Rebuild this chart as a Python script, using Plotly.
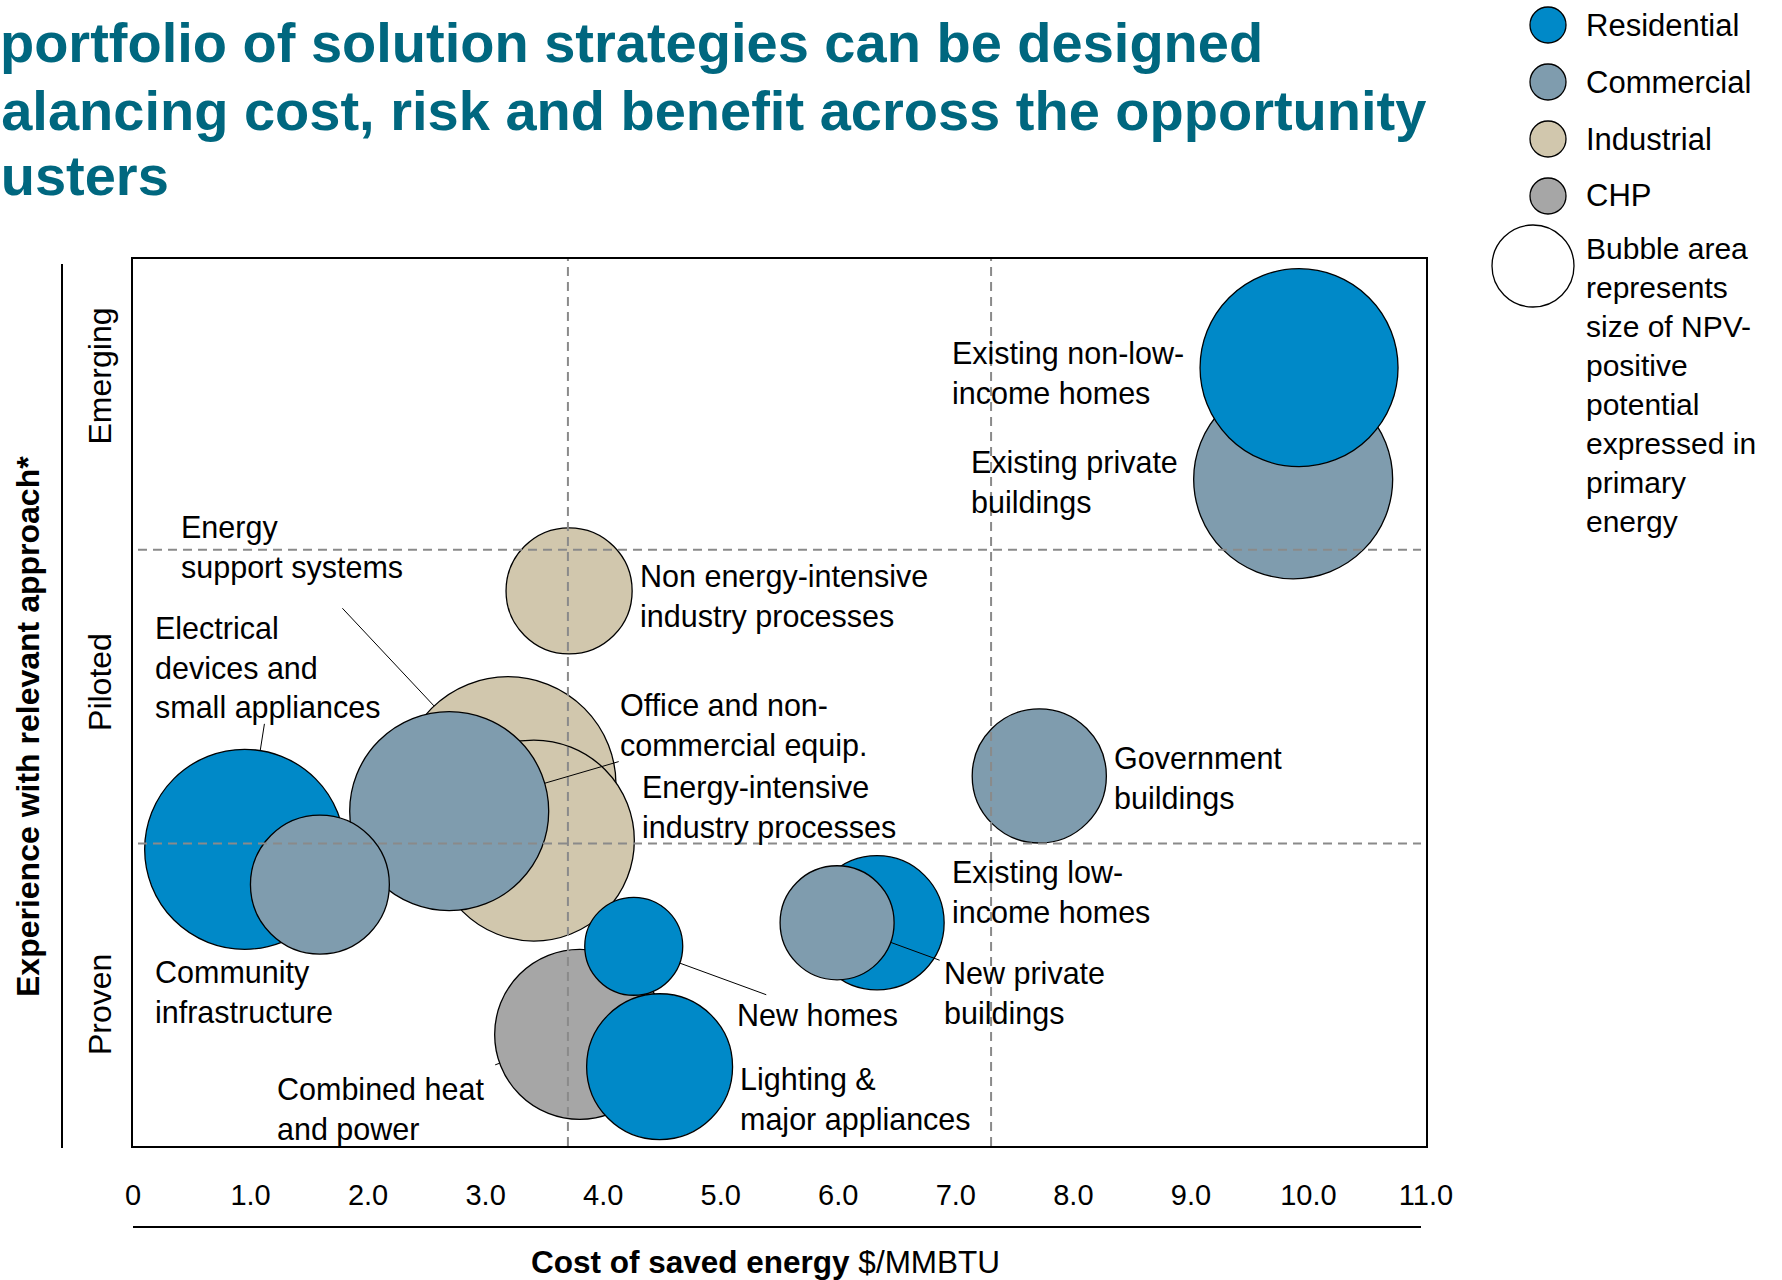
import math
import plotly.graph_objects as go

W, H = 1782, 1280

# ---------------- data ----------------
clusters = [
    "Existing private buildings", "Existing non-low-income homes",
    "Non energy-intensive industry processes", "Energy support systems",
    "Energy-intensive industry processes", "Office and non-commercial equip.",
    "Electrical devices and small appliances", "Community infrastructure",
    "Combined heat and power", "New homes", "Lighting & major appliances",
    "Existing low-income homes", "New private buildings", "Government buildings",
]
label_text = [
    "Existing private<br>buildings", "Existing non-low-<br>income homes",
    "Non energy-intensive<br>industry processes", "Energy<br>support systems",
    "Energy-intensive<br>industry processes", "Office and non-<br>commercial equip.",
    "Electrical<br>devices and<br>small appliances", "Community<br>infrastructure",
    "Combined heat<br>and power", "New homes", "Lighting &<br>major appliances",
    "Existing low-<br>income homes", "New private<br>buildings", "Government<br>buildings",
]
sector = ["Commercial", "Residential", "Industrial", "Industrial", "Industrial",
          "Commercial", "Residential", "Commercial", "CHP", "Residential",
          "Residential", "Residential", "Commercial", "Commercial"]
cost = [9.87, 9.92, 3.71, 3.19, 3.41, 2.69, 0.95, 1.59, 3.80, 4.26, 4.48, 6.33, 5.99, 7.71]
experience = [2.24, 2.62, 1.86, 1.20, 1.01, 1.11, 0.98, 0.86, 0.35, 0.65, 0.24, 0.73, 0.73, 1.23]
npv_potential = [39.6, 39.2, 15.9, 46.7, 40.4, 39.6, 40.0, 19.3, 28.9, 9.6, 21.3, 18.0, 13.0, 18.0]

sectors = ["Residential", "Commercial", "Industrial", "CHP"]
x_ticks = [0, 1, 2, 3, 4, 5, 6, 7, 8, 9, 10, 11]
x_ticktext = ["0", "1.0", "2.0", "3.0", "4.0", "5.0", "6.0", "7.0", "8.0", "9.0", "10.0", "11.0"]
stage_names = ["Emerging", "Piloted", "Proven"]
stage_pos = [2.59, 1.55, 0.45]
cost_split = [3.7, 7.3]
stage_split = [1, 2]

# ---------------- styles ----------------
COLORS = {"Residential": "#0089C8", "Commercial": "#7F9CAE",
          "Industrial": "#D1C7AD", "CHP": "#A6A6A6"}
TEAL = "#00677F"
FONT = "Liberation Sans, Arial, sans-serif"
FS = 30.5
SIZEREF = 0.002  # area mode: diameter = sqrt(2*v/sizeref)

# label offsets (px from bubble centre: right, down)
label_offset = {
    "Existing non-low-income homes": (-349, 5),
    "Existing private buildings": (-324, 3),
    "Non energy-intensive industry processes": (69, 6),
    "Energy support systems": (-329, -237),
    "Energy-intensive industry processes": (106, -33),
    "Office and non-commercial equip.": (169, -86),
    "Electrical devices and small appliances": (-92, -181),
    "Community infrastructure": (-167, 107),
    "New homes": (101, 69),
    "Combined heat and power": (-305, 75),
    "Lighting & major appliances": (78, 33),
    "Existing low-income homes": (73, -31),
    "New private buildings": (105, 71),
    "Government buildings": (73, 3),
}
leader_tail = {
    "Energy support systems": (-167, -178),
    "Electrical devices and small appliances": (20, -127),
    "Office and non-commercial equip.": (171, -50),
    "New homes": (134, 49),
    "New private buildings": (104, 38),
    "Combined heat and power": (-86, 31),
}

# plot area in pixels
PL, PR, PT, PB = 133, 1426, 259, 1146
Y_RANGE = [-0.03, 2.99]

fig = go.Figure()

fig.add_trace(go.Scatter(
    x=cost, y=experience, mode="markers",
    text=clusters, hovertemplate="%{text}<extra></extra>",
    marker=dict(size=npv_potential, sizemode="area", sizeref=SIZEREF,
                color=[COLORS[s] for s in sector], opacity=1,
                line=dict(color="black", width=1.3)),
    cliponaxis=False, showlegend=False,
))

annotations = []
for name, lab, x, y, v in zip(clusters, label_text, cost, experience, npv_potential):
    dx, dy = label_offset[name]
    annotations.append(dict(x=x, y=y, xref="x", yref="y", text=lab, showarrow=False,
                            xanchor="left", yanchor="middle", align="left",
                            xshift=dx, yshift=-dy,
                            font=dict(family=FONT, size=FS, color="black")))
    if name in leader_tail:
        r = math.sqrt(2 * v / SIZEREF) / 2
        ax, ay = leader_tail[name]
        annotations.append(dict(x=x, y=y, xref="x", yref="y", text="", showarrow=True,
                                arrowhead=0, arrowwidth=1, arrowcolor="black",
                                standoff=r, ax=ax, ay=ay))

# stage labels
for nm, pos in zip(stage_names, stage_pos):
    annotations.append(dict(x=100 / W, y=pos, xref="paper", yref="y", text=nm,
                            textangle=-90, showarrow=False, xanchor="center", yanchor="middle",
                            font=dict(family=FONT, size=32, color="black")))

# axis titles
annotations.append(dict(x=28 / W, y=1 - 727 / H, xref="paper", yref="paper",
                        text="<b>Experience with relevant approach*</b>", textangle=-90,
                        showarrow=False, xanchor="center", yanchor="middle",
                        font=dict(family=FONT, size=32, color="black")))
annotations.append(dict(x=765 / W, y=1 - 1262 / H, xref="paper", yref="paper",
                        text="<b>Cost of saved energy</b> $/MMBTU",
                        showarrow=False, xanchor="center", yanchor="middle",
                        font=dict(family=FONT, size=31.5, color="black")))

# title (left part runs off the canvas, as in the reference)
title_lines = ["A portfolio of solution strategies can be designed",
               "balancing cost, risk and benefit across the opportunity",
               "clusters"]
title_x = [-56, -35, -48]
title_y = [42, 110, 176]
for t, tx, ty in zip(title_lines, title_x, title_y):
    annotations.append(dict(x=tx / W, y=1 - ty / H, xref="paper", yref="paper", text=f"<b>{t}</b>",
                            showarrow=False, xanchor="left", yanchor="middle",
                            font=dict(family=FONT, size=56, color=TEAL)))

# legend (custom, right side)
LEG_X, LEG_Y0, LEG_DY = 1548, 25, 57
leg_y = [LEG_Y0 + LEG_DY * i for i in range(len(sectors))]
fig.add_trace(go.Scatter(
    x=[LEG_X] * len(sectors), y=leg_y, xaxis="x2", yaxis="y2", mode="markers",
    marker=dict(size=36, color=[COLORS[s] for s in sectors], line=dict(color="black", width=1.3)),
    showlegend=False, hoverinfo="skip", cliponaxis=False))
fig.add_trace(go.Scatter(
    x=[1533], y=[266], xaxis="x2", yaxis="y2", mode="markers",
    marker=dict(size=82, color="white", line=dict(color="black", width=1.3)),
    showlegend=False, hoverinfo="skip", cliponaxis=False))
for s, yy in zip(sectors, leg_y):
    annotations.append(dict(x=1584 / W, y=1 - yy / H, xref="paper", yref="paper", text=s,
                            showarrow=False, xanchor="left", yanchor="middle",
                            font=dict(family=FONT, size=31, color="black")))
annotations.append(dict(x=1584 / W, y=1 - 230 / H, xref="paper", yref="paper",
                        text="Bubble area<br>represents<br>size of NPV-<br>positive<br>potential<br>expressed in<br>primary<br>energy",
                        showarrow=False, xanchor="left", yanchor="top", align="left",
                        font=dict(family=FONT, size=30, color="black")))

# shapes
shapes = []
for cx in cost_split:
    shapes.append(dict(type="line", xref="x", yref="paper", x0=cx, x1=cx,
                       y0=(H - PB) / H, y1=(H - PT) / H,
                       line=dict(color="#8a8a8a", width=2, dash="9px,6px"), layer="above"))
for sy in stage_split:
    shapes.append(dict(type="line", xref="paper", yref="y", x0=(PL + 5) / W, x1=(PR - 5) / W,
                       y0=sy, y1=sy,
                       line=dict(color="#8a8a8a", width=2, dash="9px,6px"), layer="above"))
shapes.append(dict(type="line", xref="paper", yref="paper", x0=PL / W, x1=1421 / W,
                   y0=1 - 1227 / H, y1=1 - 1227 / H, line=dict(color="black", width=2)))
shapes.append(dict(type="line", xref="paper", yref="paper", x0=62 / W, x1=62 / W,
                   y0=1 - 1148 / H, y1=1 - 264 / H, line=dict(color="black", width=2)))

fig.update_layout(
    width=W, height=H, margin=dict(l=0, r=0, t=0, b=0, autoexpand=False),
    paper_bgcolor="white", plot_bgcolor="white",
    font=dict(family=FONT, size=FS, color="black"),
    xaxis=dict(domain=[PL / W, PR / W], range=[0, 11], tickvals=x_ticks, ticktext=x_ticktext,
               showgrid=False, zeroline=False, showline=True, mirror=True, automargin=False,
               linecolor="black", linewidth=2, ticks="outside", ticklen=22,
               tickcolor="rgba(0,0,0,0)", tickfont=dict(size=29, family=FONT, color="black")),
    yaxis=dict(domain=[1 - PB / H, 1 - PT / H], range=Y_RANGE, showticklabels=False,
               showgrid=False, zeroline=False, showline=True, mirror=True, automargin=False,
               linecolor="black", linewidth=2, ticks=""),
    xaxis2=dict(domain=[1480 / W, 1], range=[1480, W], visible=False, anchor="y2", automargin=False),
    yaxis2=dict(domain=[1 - 560 / H, 1], range=[560, 0], visible=False, anchor="x2", automargin=False),
    annotations=annotations, shapes=shapes,
)

fig.write_html("out.html")
